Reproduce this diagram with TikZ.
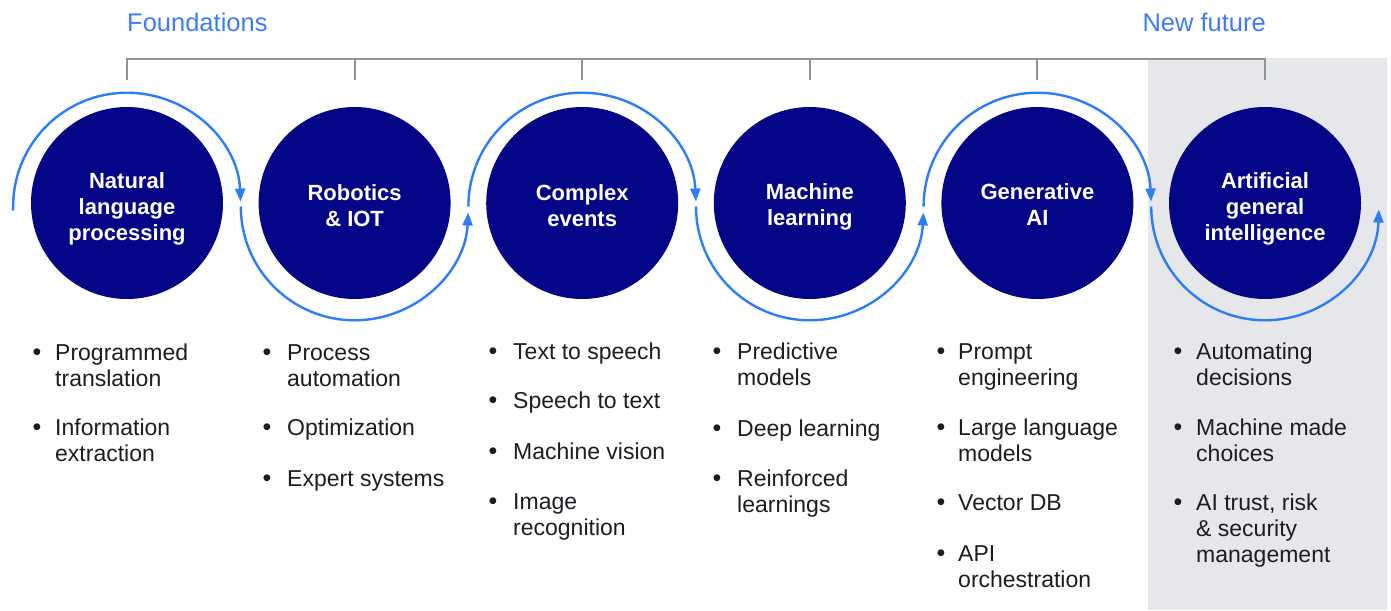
\documentclass[tikz,border=0pt]{standalone}
\usepackage{fontspec}
\setmainfont{Liberation Sans}
\usetikzlibrary{arrows.meta}
\definecolor{navy}{RGB}{5,5,135}
\definecolor{flowblue}{RGB}{45,125,245}
\definecolor{headblue}{RGB}{60,125,245}
\definecolor{bracketgray}{RGB}{140,147,153}
\definecolor{bandgray}{RGB}{230,231,235}
\definecolor{ink}{RGB}{28,28,34}
\newcommand\mylines[2]{\begin{tabular}[t]{@{}#1@{}}#2\end{tabular}}
\newcommand\bitem[5]{%
  \node[bul] (#1b) at (#3,-#4) {\textbullet};
  \node[itm] (#1) at (#2,-#4) {\mylines{l}{#5}};}
\begin{document}
\begin{tikzpicture}[x=1pt,y=1pt,
  circ/.style={circle, fill=navy, minimum size=192pt, inner sep=0pt},
  clab/.style={anchor=base, inner sep=0pt, text=white, font=\fontsize{22}{26}\selectfont\bfseries},
  itm/.style={anchor=base west, inner sep=0pt, text=ink, font=\fontsize{23}{26}\selectfont},
  bul/.style={anchor=base, inner sep=0pt, text=ink, font=\fontsize{25}{26}\selectfont},
  head/.style={inner sep=0pt, text=headblue, font=\fontsize{25.5}{28}\selectfont},
  bracket/.style={draw=bracketgray, line width=2pt},
  flow/.style={draw=flowblue, line width=2.4pt, -{Triangle[length=13pt,width=10pt]}}]
\useasboundingbox (0,0) rectangle (1391,-610);
\fill[bandgray] (1148,-58) rectangle (1387,-610);

% circles
\node[circ] (c1) at (127,-203) {};
\node[circ] (c2) at (354.6,-203) {};
\node[circ] (c3) at (582.2,-203) {};
\node[circ] (c4) at (809.8,-203) {};
\node[circ] (c5) at (1037.4,-203) {};
\node[circ] (c6) at (1265,-203) {};

\node[clab] (l1) at (127,-188) {\mylines{c}{Natural\\language\\processing}};
\node[clab] (l2) at (354.6,-200) {\mylines{c}{Robotics\\\& IOT}};
\node[clab] (l3) at (582.2,-200) {\mylines{c}{Complex\\events}};
\node[clab] (l4) at (809.8,-199) {\mylines{c}{Machine\\learning}};
\node[clab] (l5) at (1037.4,-199) {\mylines{c}{Generative\\AI}};
\node[clab] (l6) at (1265,-188) {\mylines{c}{Artificial\\general\\intelligence}};

% flow arcs
\draw[flow] (13.2,-210.5) arc[start angle=182, end angle=2.5, radius=113.8];
\draw[flow] (240.8,-206.5) arc[start angle=180, end angle=357, radius=113.8];
\draw[flow] (468.4,-206.5) arc[start angle=180, end angle=2.5, radius=113.8];
\draw[flow] (696.0,-206.5) arc[start angle=180, end angle=357, radius=113.8];
\draw[flow] (923.6,-206.5) arc[start angle=180, end angle=2.5, radius=113.8];
\draw[flow] (1151.2,-206.5) arc[start angle=180, end angle=358.5, radius=113.8];

% header
\node[head, anchor=base west] (found) at (127,-31.5) {Foundations};
\node[head, anchor=base east] (newf) at (1266,-31.5) {New future};
\coordinate (top) at (0,-59);
\coordinate (tick) at (0,-80);
\draw[bracket] (c1 |- tick) -- (c1 |- top) -- (c6 |- top) -- (c6 |- tick);
\foreach \i in {2,...,5} \draw[bracket] (c\i |- top) -- (c\i |- tick);

% bullet lists
\bitem{i11}{55}{37}{360}{Programmed\\translation}
\bitem{i12}{55}{37}{435}{Information\\extraction}
\bitem{i21}{287}{267}{360}{Process\\automation}
\bitem{i22}{287}{267}{435}{Optimization}
\bitem{i23}{287}{267}{486}{Expert systems}
\bitem{i31}{513}{493}{359}{Text to speech}
\bitem{i32}{513}{493}{408}{Speech to text}
\bitem{i33}{513}{493}{459}{Machine vision}
\bitem{i34}{513}{493}{509}{Image\\recognition}
\bitem{i41}{737}{717}{359}{Predictive\\models}
\bitem{i42}{737}{717}{436}{Deep learning}
\bitem{i43}{737}{717}{486}{Reinforced\\learnings}
\bitem{i51}{958}{941}{359}{Prompt\\engineering}
\bitem{i52}{958}{941}{435}{Large language\\models}
\bitem{i53}{958}{941}{510}{Vector DB}
\bitem{i54}{958}{941}{561}{API\\orchestration}
\bitem{i61}{1196}{1178}{359}{Automating\\decisions}
\bitem{i62}{1196}{1178}{435}{Machine made\\choices}
\bitem{i63}{1196}{1178}{510}{AI trust, risk\\\& security\\management}
\end{tikzpicture}
\end{document}
